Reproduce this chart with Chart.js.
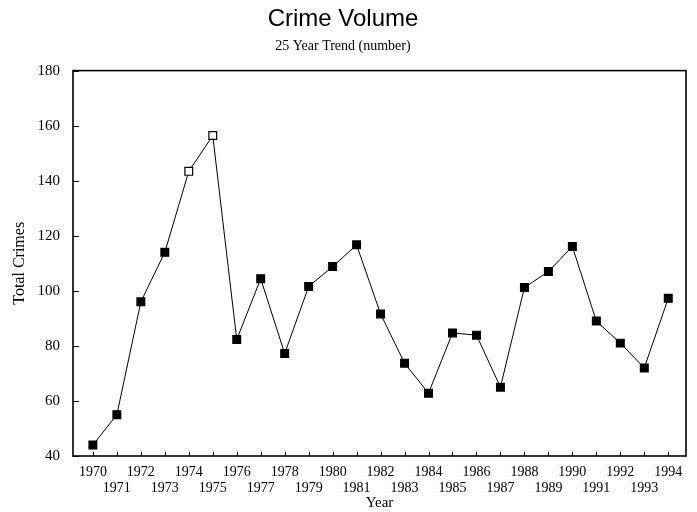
<!DOCTYPE html>
<html>
<head>
<meta charset="utf-8">
<script src="https://cdn.jsdelivr.net/npm/chart.js@4/dist/chart.umd.min.js"></script>
<style>
  body { margin: 0; background: #fff; }
  canvas { display: block; }
</style>
</head>
<body>
<canvas id="graficoCrime" width="697" height="512"></canvas>
<script>
// values
const years = [1970, 1971, 1972, 1973, 1974, 1975, 1976, 1977, 1978, 1979, 1980, 1981, 1982,
               1983, 1984, 1985, 1986, 1987, 1988, 1989, 1990, 1991, 1992, 1993, 1994];
const crimes = [44, 55, 96, 114, 143.4, 156.4, 82.3, 104.4, 77.2, 101.6, 108.8, 116.7, 91.6,
                73.7, 62.8, 84.7, 83.9, 65, 101.2, 107, 116.1, 89, 81, 72, 97.3];
const hollowYears = [1974, 1975];
const yMin = 40, yMax = 180, yStep = 20;

const serif = 'Liberation Serif';

// box round the plot + small inward tick marks
const moldura = {
  id: 'moldura',
  beforeDatasetsDraw(chart) {
    const {ctx, chartArea: a, scales: {x, y}} = chart;
    ctx.save();
    ctx.strokeStyle = '#000';
    ctx.lineWidth = 1.6;
    ctx.strokeRect(a.left, a.top, a.right - a.left, a.bottom - a.top);
    ctx.lineWidth = 1;
    ctx.beginPath();
    y.ticks.forEach(t => {
      const py = Math.round(y.getPixelForValue(t.value)) + 0.5;
      ctx.moveTo(a.left, py); ctx.lineTo(a.left + 6, py);
    });
    x.ticks.forEach(t => {
      const px = Math.round(x.getPixelForValue(t.value)) + 0.5;
      ctx.moveTo(px, a.bottom); ctx.lineTo(px, a.bottom - 4);
    });
    ctx.stroke();
    ctx.restore();
  }
};

Chart.defaults.color = '#000';

let ctxCrime = document.getElementById('graficoCrime');
let config = {
  type: 'line',
  data: {
    datasets: [{
      label: 'Total Crimes',
      data: years.map((yr, i) => ({x: yr, y: crimes[i]})),
      borderColor: '#000',
      borderWidth: 1,
      tension: 0,
      pointStyle: 'rect',
      pointRadius: 5.5,
      pointBorderWidth: 1.2,
      pointBorderColor: '#000',
      pointBackgroundColor: years.map(yr => hollowYears.includes(yr) ? '#fff' : '#000')
    }]
  },
  options: {
    responsive: false,
    animation: false,
    layout: { padding: { left: 0, right: 11, top: 0, bottom: 0 } },
    plugins: {
      legend: { display: false },
      tooltip: { enabled: false },
      title: {
        display: true,
        text: 'Crime Volume',
        font: { family: 'Liberation Sans', size: 24, weight: 'normal' },
        padding: { top: 5, bottom: 0 }
      },
      subtitle: {
        display: true,
        text: '25 Year Trend (number)',
        font: { family: serif, size: 14 },
        padding: { top: 4, bottom: 16 }
      }
    },
    scales: {
      x: {
        type: 'linear',
        min: 1969.17,
        max: 1994.74,
        grid: { display: false, drawTicks: false },
        border: { display: false },
        afterBuildTicks: s => { s.ticks = years.map(v => ({value: v})); },
        afterFit: s => { s.height = 56; },
        ticks: {
          autoSkip: false,
          maxRotation: 0,
          padding: 8,
          font: { family: serif, size: 14, lineHeight: 1.15 },
          callback: (v, i) => i % 2 ? ['', String(v)] : String(v)
        },
        title: {
          display: true,
          text: 'Year',
          font: { family: serif, size: 15 },
          padding: { top: 0, bottom: 0 }
        }
      },
      y: {
        min: yMin,
        max: yMax,
        grid: { display: false, drawTicks: false },
        border: { display: false },
        afterFit: s => { s.width = 73; },
        ticks: {
          stepSize: yStep,
          padding: 13,
          font: { family: serif, size: 15 }
        },
        title: {
          display: true,
          text: 'Total Crimes',
          font: { family: serif, size: 16 },
          padding: { top: 10, bottom: 0 }
        }
      }
    }
  },
  plugins: [moldura]
};
let chartCrime = new Chart(ctxCrime, config);
</script>
</body>
</html>
